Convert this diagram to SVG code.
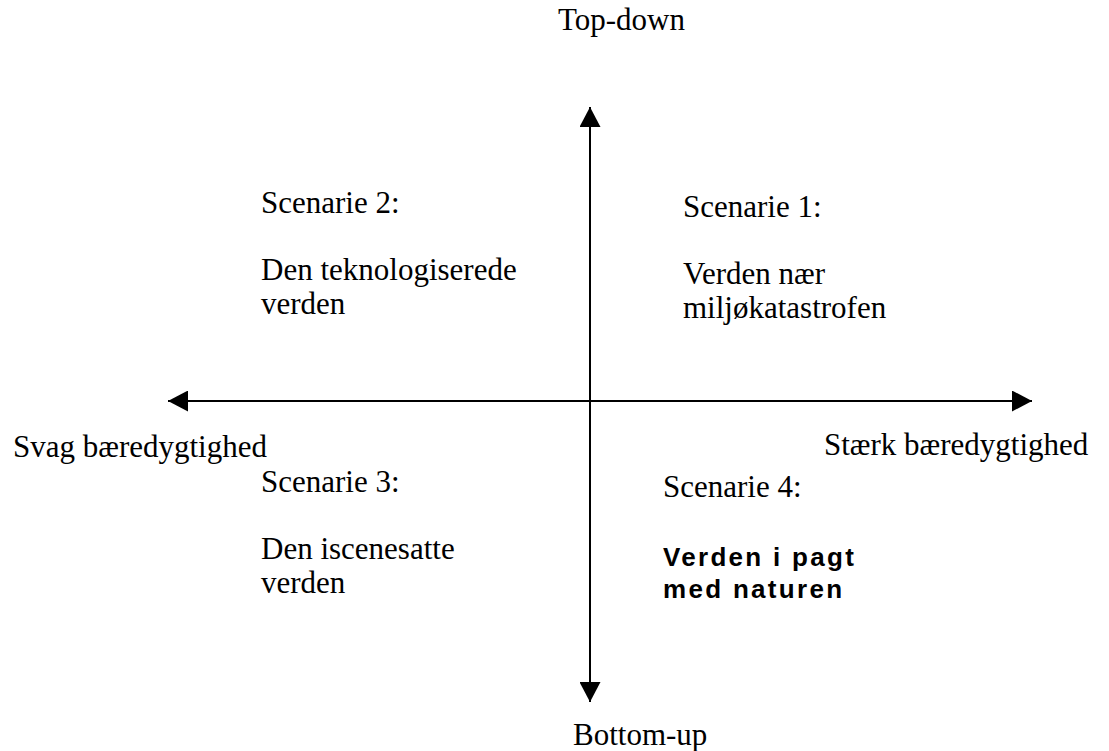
<svg xmlns="http://www.w3.org/2000/svg" width="1109" height="751" viewBox="0 0 1109 751">
<style>
.t{font-family:"Liberation Serif","Times New Roman",serif;font-size:31px;fill:#000}
.b{font-family:"Liberation Sans",Arial,sans-serif;font-size:26px;font-weight:bold;letter-spacing:2.3px;fill:#000}
.ax{stroke:#000;stroke-width:2;fill:none}
</style>
<defs>
<marker id="ah" viewBox="0 0 20 21" refX="20" refY="10.5" markerWidth="20" markerHeight="21" markerUnits="userSpaceOnUse" orient="auto">
<path d="M0,0 L20,10.5 L0,21 Z" fill="#000"/>
</marker>
</defs>
<rect width="1109" height="751" fill="#fff"/>
<g id="connectors">
<line class="ax" x1="590" y1="401" x2="590" y2="107" marker-end="url(#ah)"/>
<line class="ax" x1="590" y1="401" x2="590" y2="702" marker-end="url(#ah)"/>
<line class="ax" x1="590" y1="401" x2="168" y2="401" marker-end="url(#ah)"/>
<line class="ax" x1="590" y1="401" x2="1032" y2="401" marker-end="url(#ah)"/>
</g>
<g id="top-down"><text class="t" x="558" y="30">Top-down</text></g>
<g id="bottom-up"><text class="t" x="573" y="745">Bottom-up</text></g>
<g id="svag"><text class="t" x="13" y="457">Svag bæredygtighed</text></g>
<g id="staerk"><text class="t" x="824" y="455">Stærk bæredygtighed</text></g>
<g id="scenarie1">
<text class="t" x="683" y="217">Scenarie 1:</text>
<text class="t" x="683" y="284">Verden nær</text>
<text class="t" x="683" y="318">miljøkatastrofen</text>
</g>
<g id="scenarie2">
<text class="t" x="261" y="213">Scenarie 2:</text>
<text class="t" x="261" y="280">Den teknologiserede</text>
<text class="t" x="261" y="314">verden</text>
</g>
<g id="scenarie3">
<text class="t" x="261" y="492">Scenarie 3:</text>
<text class="t" x="261" y="559">Den iscenesatte</text>
<text class="t" x="261" y="593">verden</text>
</g>
<g id="scenarie4">
<text class="t" x="663" y="497">Scenarie 4:</text>
<text class="b" x="663" y="566">Verden i pagt</text>
<text class="b" x="663" y="598">med naturen</text>
</g>
</svg>
